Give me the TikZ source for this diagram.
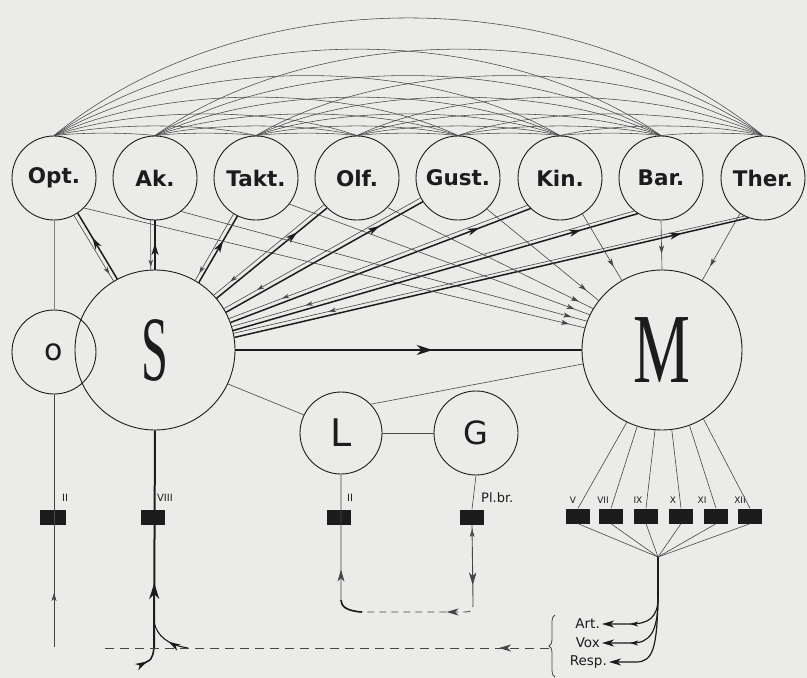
\documentclass[tikz,border=0pt]{standalone}
\usepackage{fontspec}
\setmainfont{DejaVu Sans}
\newfontfamily\serifbig{Liberation Serif}
\usetikzlibrary{arrows.meta,decorations.markings,decorations.pathreplacing,calc}
\definecolor{paper}{RGB}{235,235,233}
\definecolor{ink}{RGB}{28,28,28}
\definecolor{fine}{RGB}{70,70,70}
\tikzset{
  Tbig/.tip={Stealth[length=16pt,width=10pt,inset=5pt]},
  Tmed/.tip={Stealth[length=12pt,width=7pt,inset=3.5pt]},
  Tsm/.tip={Stealth[length=8pt,width=5pt,inset=2pt]},
  Tsmr/.tip={Stealth[length=7pt,width=4.5pt,inset=2pt,reversed]},
  circ/.style={circle,draw=ink,line width=0.9pt,inner sep=0pt,minimum size=#1,text=ink},
  sense/.style={circ=84pt,font=\bfseries\fontsize{21.5}{21.5}\selectfont},
  blk/.style={fill=ink,draw=none,minimum width=24pt,minimum height=15pt,inner sep=0pt},
  lab/.style={font=\fontsize{10}{10}\selectfont,inner sep=0pt,text=ink},
  slab/.style={font=\fontsize{9}{9}\selectfont,inner sep=0pt,text=ink},
  rlab/.style={font=\fontsize{13.5}{13.5}\selectfont,inner sep=0pt,text=ink,anchor=east},
  thinl/.style={draw=fine,line width=0.6pt},
  thickl/.style={draw=ink,line width=1.4pt},
  arcl/.style={draw=fine,line width=0.55pt},
  dashl/.style={draw=fine,line width=0.8pt,dash pattern=on 7pt off 5pt},
  arrowat/.style 2 args={postaction={decorate},decoration={markings,mark=at position #1 with {\arrow{#2}}}},
}
\begin{document}
\begin{tikzpicture}[x=1pt,y=-1pt]
\fill[paper] (0,0) rectangle (807,678);
\useasboundingbox (0,0) rectangle (807,678);

% sensory circles
\foreach \n/\x/\t in {opt/54/Opt.,ak/155/Ak.,takt/256/Takt.,olf/357/Olf.,gust/458/Gust.,kin/560/Kin.,bar/661/Bar.,ther/763/Ther.}
  \node[sense] (\n) at (\x,178) {\t};

% main circles
\node[circ=84pt,font=\fontsize{30}{30}\selectfont] (O) at (54,352) {o};
\node[circ=160pt,font=\serifbig\fontsize{46}{46}\selectfont] (S) at (155,350) {\scalebox{1.05}[2]{S}};
\node[circ=160pt,font=\serifbig\fontsize{64}{64}\selectfont] (M) at (662,350) {\scalebox{1}[1.55]{M}};
\node[circ=82pt,font=\fontsize{38}{38}\selectfont] (L) at (341,433) {L};
\node[circ=84pt,font=\fontsize{32}{32}\selectfont] (G) at (476,433) {G};

% blocks
\node[blk,minimum width=26pt] (bO) at (53,517) {};
\node[blk] (bVIII) at (153,517) {};
\node[blk] (bL) at (339,517) {};
\node[blk] (bPl) at (472,517) {};
\foreach \b/\x in {bV/578,bVII/611,bIX/646,bX/681,bXI/716,bXII/750}
  \node[blk] (\b) at (\x,516) {};

% block labels
\node[lab] (tO) at (65,498) {II};
\node[lab] (tVIII) at (165,498) {VIII};
\node[lab] (tL) at (350,498) {II};
\node[lab,anchor=west,font=\fontsize{13}{13}\selectfont] (tPl) at (481,498) {Pl.br.};
\foreach \t/\x/\s in {tV/573/V,tVII/603/VII,tIX/638/IX,tX/673/X,tXI/702/XI,tXII/740/XII}
  \node[slab] (\t) at (\x,500) {\s};

% arcs between sensory circles
\foreach \a/\i in {opt/1,ak/2,takt/3,olf/4,gust/5,kin/6,bar/7,ther/8}{%
  \foreach \b/\j in {opt/1,ak/2,takt/3,olf/4,gust/5,kin/6,bar/7,ther/8}{%
    \ifnum\j>\i\relax
      \pgfmathsetmacro\w{0.27*(\j-\i)*101.3}%
      \pgfmathsetmacro\h{3.2*(\j-\i)*(\j-\i)}%
      \draw[arcl] (\a.north) .. controls +(\w,-\h) and +(-\w,-\h) .. (\b.north);
    \fi
  }
}

% S <-> sensory pairs
\foreach \n/\sa/\na/\pos in {opt/118/304/0.63,ak/90/270/0.54,takt/57/244/0.63,olf/40/225/0.73,gust/28/214/0.78,kin/20/226/0.83,bar/14/237/0.86,ther/9/250/0.87}{%
  \pgfmathtruncatemacro\sb{\sa+3}%
  \pgfmathtruncatemacro\nb{\na-6}%
  \draw[thickl,line width=1.5pt,arrowat={\pos}{Tmed}] (S.\sa) -- (\n.\na);
  \draw[thinl,arrowat={0.2}{Tsmr}] (S.\sb) -- (\n.\nb);
}

% sensory -> M
\foreach \n/\a/\m in {opt/315/164,ak/308/159,takt/322/154,olf/316/149,gust/313/142,kin/302/120,bar/270/90,ther/237/60}
  \draw[thinl,arrowat={-16pt}{Tsm}] (\n.\a) -- (M.\m);

% S -> M
\draw[thickl,line width=1.8pt,arrowat={0.57}{Tbig}] (S.east) -- (M.west);

% S, L, G, M links
\draw[thinl] (S.335) -- (L.154);
\draw[thinl] (L.east) -- (G.west);
\draw[thinl] (L.44) -- (M.190);
\draw[thinl] (G.south) -- (bPl.north);
\draw[thinl,draw=fine!70] (opt.south) -- (O.north);

% M -> blocks -> convergence
\coordinate (conv) at (658,557);
\foreach \b/\a in {bV/244,bVII/252,bIX/265,bX/277,bXI/290,bXII/301}{%
  \draw[thinl] (M.\a) -- (\b.north);
  \draw[thinl] (\b.south) -- (conv);
}

% O line
\coordinate (oEnd) at (54,647);
\draw[thinl,arrowat={54pt}{Tsm}] (oEnd) -- (O.south);

% VIII line
\coordinate (v8a) at (154,622);
\coordinate (v8b) at (154,648);
\coordinate (v8end) at (139,665);
\coordinate (v8br) at (188,648);
\draw[thickl,line width=2pt,arrowat={65pt}{Tbig}] (v8b) -- (S.south);
\draw[thickl,line width=1.6pt,arrowat={9pt}{Tmed}] (v8end) .. controls (152,660) .. (v8b);
\draw[thickl,line width=1.1pt,arrowat={0.45}{Tmed}] (v8br) .. controls (168,645) and (157,636) .. (v8a);

% L line and Pl.br. loop
\coordinate (lb) at (341,600);
\coordinate (lh) at (362,612);
\coordinate (pb) at (473,600);
\draw[thinl,line width=0.9pt,arrowat={57pt}{Tmed}] (lh) .. controls (346,611) and (341,606) .. (lb) -- (L.south);
\draw[thickl,line width=1.6pt] (lh) .. controls (346,611) and (341,606) .. (lb);
\draw[thinl,line width=0.9pt,arrowat={60pt}{Tmed},arrowat={12pt}{Tsmr}] (bPl.south) -- (pb);
\draw[dashl,arrowat={36pt}{Tmed}] (pb) .. controls (473,612) .. (460,612) -- (lh);

% bottom dashed line with brace
\coordinate (brtip) at (549,648);
\coordinate (dEnd) at (100,648);
\coordinate (brB) at (555,677);
\coordinate (brT) at (555,615);
\draw[dashl,dash pattern=on 9pt off 6pt,arrowat={50pt}{Tmed}] (brtip) -- (dEnd);
\draw[thinl,line width=0.8pt,decorate,decoration={brace,amplitude=6pt}] (brB) -- (brT);

% Art / Vox / Resp
\node[rlab] (art) at (600,624) {Art.};
\node[rlab] (vox) at (600,643) {Vox};
\node[rlab] (resp) at (607,662) {Resp.};
\coordinate (cv) at (658,598);
\draw[thickl,line width=1.8pt] (conv) -- (cv);
\draw[thickl,line width=1.2pt,-{Tmed},arrowat={-28pt}{Tsm}] (cv) .. controls (658,618) and (648,624) .. (630,624) -- ([xshift=2pt]art.east);
\draw[thickl,line width=1.2pt,-{Tmed},arrowat={-28pt}{Tsm}] (cv) .. controls (658,632) and (650,643) .. (632,643) -- ([xshift=2pt]vox.east);
\draw[thickl,line width=1.2pt,-{Tmed}] (cv) .. controls (657,648) and (653,662) .. (636,662) -- ([xshift=2pt]resp.east);
\end{tikzpicture}
\end{document}
